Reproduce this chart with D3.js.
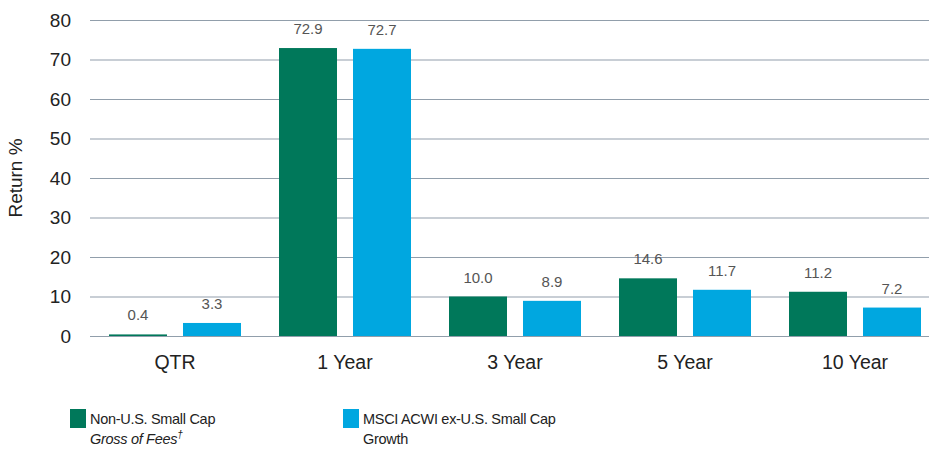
<!DOCTYPE html>
<html lang="en">
  <head>
    <meta charset="utf-8" />
    <title>Returns</title>
    <script src="https://cdn.jsdelivr.net/npm/d3@7"></script>
    <style>
      body { margin: 0; background: #fff; }
    </style>
  </head>
  <body>
    <svg id="chart" width="929" height="449"></svg>
    <script>
      // chart data
      const categories = ["QTR", "1 Year", "3 Year", "5 Year", "10 Year"];
      const fundValues = [0.4, 72.9, 10.0, 14.6, 11.2];
      const indexValues = [3.3, 72.7, 8.9, 11.7, 7.2];
      const yTicks = [0, 10, 20, 30, 40, 50, 60, 70, 80];
      const seriesNames = ["fund", "index"];

      const colors = { fund: "#00785a", index: "#00a7e0" };

      const svg = d3.select("#chart")
        .attr("font-family", "'Liberation Sans', Arial, sans-serif");

      const margin = { top: 20, right: -11, bottom: 113, left: 90 };
      const width = +svg.attr("width");
      const height = +svg.attr("height");

      const y = d3.scaleLinear()
        .domain([0, 80])
        .range([height - margin.bottom, margin.top]);

      const x = d3.scaleBand()
        .domain(categories)
        .range([margin.left, width - margin.right]);

      // two bars of 58px with a 16px gap, 19px in from each side of the band
      const x1 = d3.scaleBand()
        .domain(seriesNames)
        .range([19, x.bandwidth() - 19])
        .paddingInner(16 / 74);

      // gridlines
      svg.append("g")
        .selectAll("line")
        .data(yTicks)
        .join("line")
          .attr("x1", margin.left)
          .attr("x2", width)
          .attr("y1", d => y(d) + 0.5)
          .attr("y2", d => y(d) + 0.5)
          .attr("stroke", "#919eab")
          .attr("stroke-width", 1.2);

      // y tick labels
      svg.append("g")
        .selectAll("text")
        .data(yTicks)
        .join("text")
          .attr("x", 71)
          .attr("y", d => y(d))
          .attr("dy", "0.36em")
          .attr("text-anchor", "end")
          .attr("font-size", 19)
          .attr("fill", "#222")
          .text(d => d);

      svg.append("text")
        .attr("transform", `translate(22,${(y(0) + y(80)) / 2}) rotate(-90)`)
        .attr("text-anchor", "middle")
        .attr("font-size", 19)
        .attr("fill", "#222")
        .text("Return %");

      const rows = categories.map((c, i) => [
        { cat: c, key: "fund", value: fundValues[i] },
        { cat: c, key: "index", value: indexValues[i] }
      ]).flat();

      svg.append("g")
        .selectAll("rect")
        .data(rows)
        .join("rect")
          .attr("x", d => x(d.cat) + x1(d.key))
          .attr("y", d => y(d.value))
          .attr("width", x1.bandwidth())
          .attr("height", d => y(0) - y(d.value))
          .attr("fill", d => colors[d.key]);

      // value labels
      svg.append("g")
        .selectAll("text")
        .data(rows)
        .join("text")
          .attr("x", d => x(d.cat) + x1(d.key) + x1.bandwidth() / 2)
          .attr("y", d => y(d.value) - 14)
          .attr("text-anchor", "middle")
          .attr("font-size", 15)
          .attr("fill", "#555")
          .text(d => d.value.toFixed(1));

      // category labels
      svg.append("g")
        .selectAll("text")
        .data(categories)
        .join("text")
          .attr("x", d => x(d) + x.bandwidth() / 2)
          .attr("y", 369)
          .attr("text-anchor", "middle")
          .attr("font-size", 19.5)
          .attr("fill", "#222")
          .text(d => d);

      // legend
      const legend = svg.append("g")
        .attr("font-size", 14.5)
        .attr("letter-spacing", "-0.3px")
        .attr("fill", "#222");

      legend.append("rect")
        .attr("x", 70).attr("y", 409).attr("width", 16).attr("height", 19)
        .attr("fill", colors.fund);
      legend.append("text")
        .attr("x", 90).attr("y", 424)
        .text("Non-U.S. Small Cap");
      const t2 = legend.append("text")
        .attr("x", 90).attr("y", 444)
        .attr("font-style", "italic")
        .text("Gross of Fees");
      t2.append("tspan")
        .attr("font-size", 10)
        .attr("dy", -6)
        .text("†");

      legend.append("rect")
        .attr("x", 343).attr("y", 409).attr("width", 16).attr("height", 19)
        .attr("fill", colors.index);
      legend.append("text")
        .attr("x", 363).attr("y", 424)
        .text("MSCI ACWI ex-U.S. Small Cap");
      legend.append("text")
        .attr("x", 363).attr("y", 444)
        .text("Growth");
    </script>
  </body>
</html>
